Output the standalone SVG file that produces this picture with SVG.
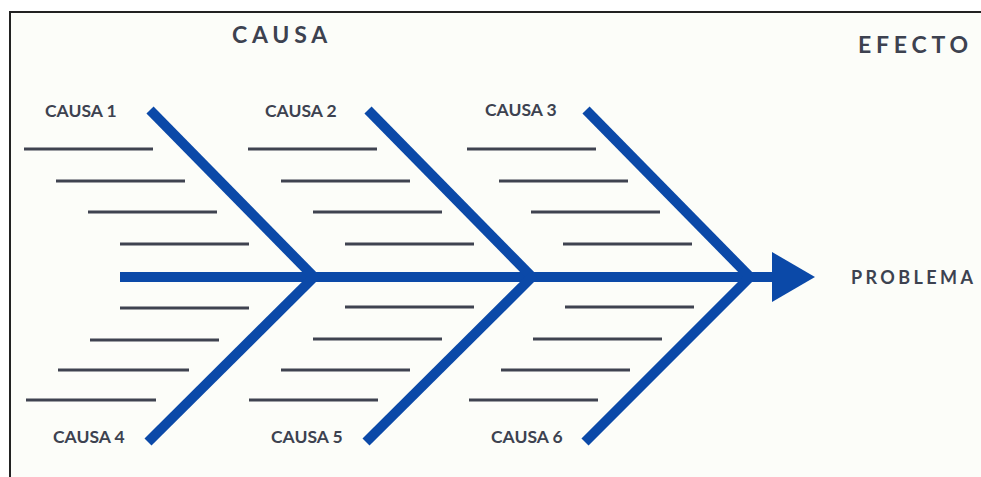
<svg xmlns="http://www.w3.org/2000/svg" width="981" height="477" viewBox="0 0 981 477">
<style>
.t{font-family:Lato,"Open Sans","Liberation Sans",sans-serif;font-weight:bold;fill:#3d4250}
.h{font-size:23px;letter-spacing:4.8px}
.p{font-size:18px;letter-spacing:3.4px}
.c{font-size:17.5px}
.bone{stroke:#0b49a8;stroke-width:10;fill:none;stroke-linecap:butt}
.ln{stroke:#3f4350;stroke-width:3;fill:none}
</style>
<rect x="0" y="0" width="981" height="477" fill="#ffffff"/>
<rect x="10" y="12" width="971" height="465" fill="#fcfdf9"/>
<path d="M10 477V12H981" fill="none" stroke="#222" stroke-width="2"/>
<g id="titles">
<text class="t h" x="232" y="43">CAUSA</text>
<text class="t h" x="858" y="53">EFECTO</text>
</g>
<g id="connectors">
<line class="bone" x1="120" y1="277" x2="780" y2="277"/>
<polygon points="772,252 815,277 772,302" fill="#0b49a8"/>
<line class="bone" x1="150" y1="110" x2="316" y2="279"/>
<line class="bone" x1="368" y1="110" x2="534" y2="279"/>
<line class="bone" x1="586" y1="110" x2="752" y2="279"/>
<line class="bone" x1="148" y1="442" x2="316" y2="275"/>
<line class="bone" x1="366" y1="442" x2="534" y2="275"/>
<line class="bone" x1="585" y1="442" x2="752" y2="275"/>
</g>
<g id="problema"><text class="t p" x="851" y="284">PROBLEMA</text></g>
<g id="causa1">
<text class="t c" x="45" y="117">CAUSA 1</text>
<path class="ln" d="M24 149H153M56 181H185M88 212H217M120 244H249"/>
</g>
<g id="causa2">
<text class="t c" x="265" y="117">CAUSA 2</text>
<path class="ln" d="M248 149H377M281 181H410M313 212H442M345 244H474"/>
</g>
<g id="causa3">
<text class="t c" x="485" y="116">CAUSA 3</text>
<path class="ln" d="M467 149H596M499 181H628M531 212H660M563 244H692"/>
</g>
<g id="causa4">
<text class="t c" x="53" y="443">CAUSA 4</text>
<path class="ln" d="M120 308H249M90 340H219M58 370H189M26 400H156"/>
</g>
<g id="causa5">
<text class="t c" x="271" y="443">CAUSA 5</text>
<path class="ln" d="M345 307H474M313 339H442M281 370H410M249 400H378"/>
</g>
<g id="causa6">
<text class="t c" x="491" y="443">CAUSA 6</text>
<path class="ln" d="M565 307H694M533 339H662M501 370H630M469 400H598"/>
</g>
</svg>
